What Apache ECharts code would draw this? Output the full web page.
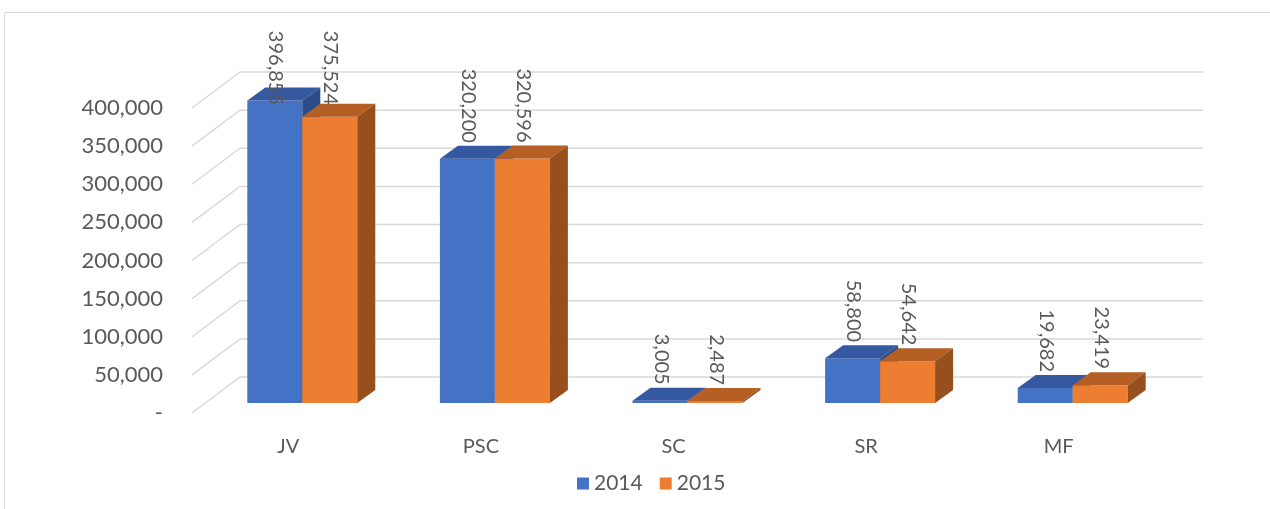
<!DOCTYPE html>
<html>
<head>
<meta charset="utf-8">
<script src="https://cdn.jsdelivr.net/npm/echarts@6/dist/echarts.min.js"></script>
<style>
  html, body { margin: 0; padding: 0; background: #fff; }
  #chart { width: 1270px; height: 509px; }
</style>
</head>
<body>
<div id="chart"></div>
<script>
// data
var categories = ['JV', 'PSC', 'SC', 'SR', 'MF'];
var values2014 = [396855, 320200, 3005, 58800, 19682];
var values2015 = [375524, 320596, 2487, 54642, 23419];
var yTicks = [0, 50000, 100000, 150000, 200000, 250000, 300000, 350000, 400000];

var FONT = 'Lato, "Open Sans", sans-serif';
var TEXT = '#595959';

// depth of the floor / wall and of a bar, in pixels
var WALL_DX = 48, WALL_DY = 36;
var BAR_DX = 18, BAR_DY = 13;
var BAR_OFF_X = 14, BAR_OFF_Y = 10;

var colors = {
  '2014': { front: '#4472C4', top: '#3459A0', side: '#2C4C88' },
  '2015': { front: '#ED7D31', top: '#B55F25', side: '#974F1E' }
};

function fmt(v) {
  return v.toLocaleString('en-US');
}

function barRenderer(year, left) {
  var c = colors[year];
  return function (params, api) {
    var base = api.coord([api.value(0), 0]);
    var top = api.coord([api.value(0), api.value(1)]);
    var band = api.size([1, 0])[0];
    var w = band * 0.2855;
    var x0 = base[0] + BAR_OFF_X - (left ? w : 0);
    var yb = base[1] - BAR_OFF_Y;
    var yt = top[1] - BAR_OFF_Y;
    var labelY = Math.max(yt - BAR_DY - 3, 105);
    return {
      type: 'group',
      children: [
        { type: 'rect', shape: { x: x0, y: yt, width: w, height: yb - yt },
          style: { fill: c.front } },
        { type: 'polygon', shape: { points: [[x0, yt], [x0 + BAR_DX, yt - BAR_DY], [x0 + w + BAR_DX, yt - BAR_DY], [x0 + w, yt]] },
          style: { fill: c.top } },
        { type: 'polygon', shape: { points: [[x0 + w, yt], [x0 + w + BAR_DX, yt - BAR_DY], [x0 + w + BAR_DX, yb - BAR_DY], [x0 + w, yb]] },
          style: { fill: c.side } },
        { type: 'text', x: x0 + w / 2 + 1, y: labelY, rotation: -Math.PI / 2,
          style: { text: fmt(api.value(1)), fill: TEXT, font: '20px ' + FONT, align: 'right', verticalAlign: 'middle' } }
      ]
    };
  };
}

function gridRenderer(params, api) {
  var cs = params.coordSys;
  var p = api.coord([0, api.value(1)]);
  var y = p[1];
  return {
    type: 'polyline',
    shape: { points: [[cs.x, y], [cs.x + WALL_DX, y - WALL_DY], [cs.x + cs.width + WALL_DX, y - WALL_DY]] },
    style: { stroke: '#D9D9D9', lineWidth: 1.5, fill: null }
  };
}

var chart = echarts.init(document.getElementById('chart'));
chart.setOption({
  animation: false,
  graphic: [{
    type: 'rect', z: -10,
    shape: { x: 4.5, y: 12.5, width: 1400, height: 600 },
    style: { fill: null, stroke: '#D9D9D9', lineWidth: 1 }
  }],
  legend: {
    data: ['2014', '2015'],
    left: 572, top: 468,
    icon: 'rect', itemWidth: 12, itemHeight: 12, itemGap: 17,
    textStyle: { color: TEXT, fontSize: 21, fontFamily: FONT }
  },
  grid: { left: 192, width: 963, top: 108, bottom: 96 },
  xAxis: {
    type: 'category',
    data: categories,
    axisLine: { show: false },
    axisTick: { show: false },
    axisLabel: { color: TEXT, fontSize: 20, fontFamily: FONT, margin: 24 }
  },
  yAxis: {
    type: 'value',
    min: 0, max: 400000, interval: 50000,
    splitLine: { show: false },
    axisLine: { show: false },
    axisTick: { show: false },
    axisLabel: {
      color: TEXT, fontSize: 22, fontFamily: FONT, margin: 29,
      padding: [6, 0, 0, 0],
      formatter: function (v) { return v === 0 ? '-' : fmt(v); }
    }
  },
  series: [
    { type: 'custom', name: 'grid', silent: true, clip: false, z: 1,
      data: yTicks.map(function (v) { return [0, v]; }),
      renderItem: gridRenderer },
    { type: 'custom', name: '2014', clip: false, z: 2,
      itemStyle: { color: colors['2014'].front },
      data: categories.map(function (c, i) { return [c, values2014[i]]; }),
      renderItem: barRenderer('2014', true) },
    { type: 'custom', name: '2015', clip: false, z: 3,
      itemStyle: { color: colors['2015'].front },
      data: categories.map(function (c, i) { return [c, values2015[i]]; }),
      renderItem: barRenderer('2015', false) }
  ]
});
</script>
</body>
</html>
